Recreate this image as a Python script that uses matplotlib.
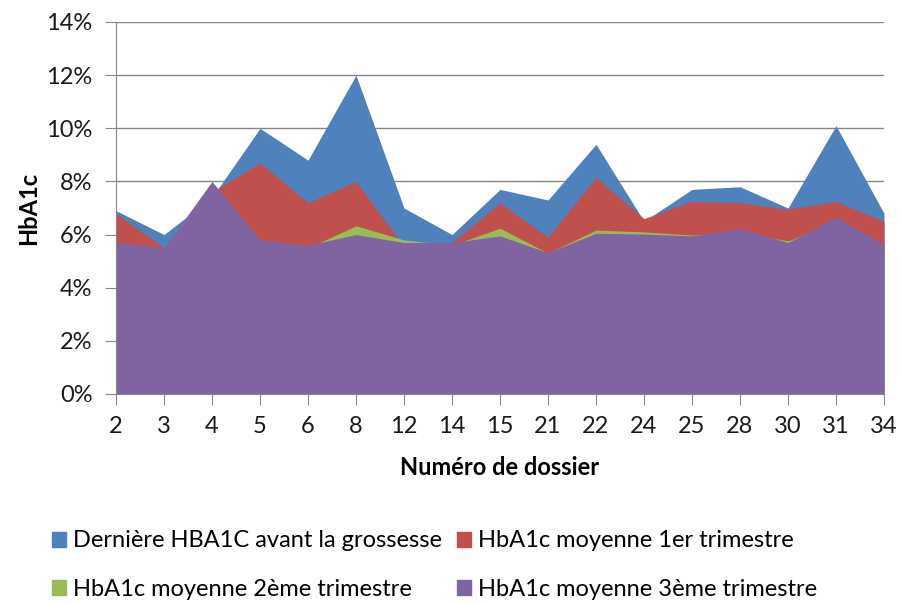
import numpy as np
import matplotlib
matplotlib.use("Agg")
import matplotlib.pyplot as plt
from matplotlib.patches import Patch
from matplotlib.ticker import FuncFormatter

plt.rcParams['font.family'] = ['Lato', 'DejaVu Sans']

# numéros de dossier
dossiers = ['2', '3', '4', '5', '6', '8', '12', '14', '15', '21', '22', '24', '25', '28', '30', '31', '34']

# HbA1c (%)
derniere = [6.9, 6.0, 7.4, 10.0, 8.8, 12.0, 7.0, 6.0, 7.7, 7.3, 9.4, 6.5, 7.7, 7.8, 7.0, 10.1, 6.8]
trim1 = [6.8, 5.5, 7.6, 8.7, 7.2, 8.0, 5.55, 5.7, 7.2, 5.9, 8.15, 6.6, 7.25, 7.2, 6.95, 7.25, 6.5]
trim2 = [5.6, 5.4, 7.5, 5.7, 5.5, 6.33, 5.8, 5.6, 6.24, 5.3, 6.17, 6.1, 5.98, 6.1, 5.76, 6.5, 5.5]
trim3 = [5.72, 5.5, 8.0, 5.8, 5.6, 6.0, 5.7, 5.7, 5.95, 5.32, 6.05, 6.02, 5.95, 6.23, 5.7, 6.65, 5.63]

series = [
    ("Dernière HBA1C avant la grossesse", derniere, '#4F81BD'),
    ("HbA1c moyenne 1er trimestre", trim1, '#C0504D'),
    ("HbA1c moyenne 2ème trimestre", trim2, '#9BBB59'),
    ("HbA1c moyenne 3ème trimestre", trim3, '#8064A2'),
]

fs = 17

fig = plt.figure(figsize=(9.03, 6.03), dpi=100)
ax = fig.add_axes([116 / 903, 1 - 394 / 603, 768 / 903, 372 / 603])

x = np.arange(len(dossiers))
for name, vals, col in series:
    ax.fill_between(x, 0, np.array(vals) / 100, color=col, lw=0, label=name)

ax.set_xlim(0, len(dossiers) - 1)
ax.set_ylim(0, 0.14)
ax.set_yticks(np.arange(0, 0.141, 0.02))
ax.yaxis.set_major_formatter(FuncFormatter(lambda v, p: f"{v * 100:.0f}%"))
ax.set_xticks(x)
ax.set_xticklabels(dossiers)

ax.grid(axis='y', color='#868686', lw=1)
ax.set_axisbelow(True)
for s in ['top', 'right']:
    ax.spines[s].set_visible(False)
for s in ['left', 'bottom']:
    ax.spines[s].set_color('#868686')
ax.tick_params(axis='both', colors='#868686', labelcolor='#1a1a1a', labelsize=fs,
               direction='out', length=8)
ax.tick_params(axis='x', pad=8)
ax.tick_params(axis='y', pad=9)

ax.set_xlabel("Numéro de dossier", fontsize=fs, fontweight='bold')
ax.set_ylabel("HbA1c", fontsize=fs, fontweight='bold')
ax.xaxis.set_label_coords(0.5, (394 - 456) / 372)
ax.yaxis.set_label_coords((40 - 116) / 768, 0.5)

# ordre ligne par ligne comme dans l'original
order = [0, 2, 1, 3]
handles = [Patch(color=series[i][2]) for i in order]
labels = [series[i][0] for i in order]
fig.legend(handles, labels, ncol=2, loc='center left', bbox_to_anchor=(31 / 903, 1 - 565 / 603),
           frameon=False, fontsize=fs, handlelength=0.6, handleheight=0.6,
           handletextpad=0.3, columnspacing=0.6, labelspacing=1.15)

fig.savefig("out.png", dpi=100)
